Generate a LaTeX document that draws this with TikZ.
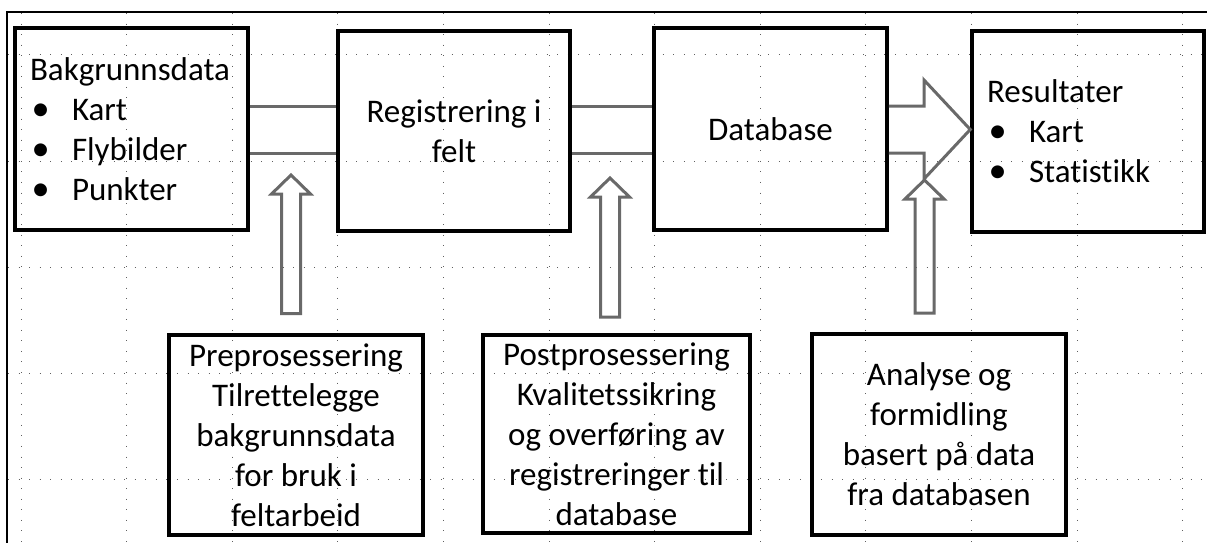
\documentclass[tikz,border=0pt]{standalone}
\usepackage{fontspec}
\setmainfont{Carlito}[Ligatures=NoCommon]
\definecolor{linegray}{RGB}{105,105,105}
\definecolor{dotgray}{RGB}{95,95,95}
% bullet used in the list boxes
\newcommand{\bul}{\makebox[42pt][l]{\hspace{1.5pt}\scalebox{1.1}{\textbullet}}}

\tikzset{
  box/.style={draw=black, line width=3.5pt, inner sep=0pt,
    font=\fontsize{33}{40}\selectfont},
  listbox/.style={box, align=left},
  textbox/.style={box, align=center},
  link/.style={draw=linegray, line width=3pt, line join=miter},
  gridline/.style={draw=dotgray, line width=1pt, dash pattern=on 1pt off 9.56pt},
  % hollow upward block arrow; argument = total length
  pics/upblock/.style={code={
    \draw[link] (-9.5,0) -- (-9.5,{-(#1-19)}) -- (-19.5,{-(#1-19)})
      -- (0,-#1) -- (19.5,{-(#1-19)}) -- (9.5,{-(#1-19)}) -- (9.5,0) -- cycle;
  }}
}

\begin{document}
\begin{tikzpicture}[x=1pt,y=-1pt]
\useasboundingbox (0,0) rectangle (1207,543);

% dotted background grid
\foreach \i in {0,...,11}
  \draw[gridline] ({21+105.6*\i},13) -- ({21+105.6*\i},543);
\foreach \yy in {55,161,267,373,479}
  \draw[gridline] (8,\yy) -- (1207,\yy);

% frame
\draw[line width=2pt] (7,543) -- (7,12) -- (1207,12);

% top row
\node[listbox, text width=203pt, minimum width=233pt, minimum height=202pt]
  (bak) at (131.5,129) {Bakgrunnsdata\\\bul Kart\\\bul Flybilder\\\bul Punkter};
\node[textbox, minimum width=232pt, minimum height=200pt]
  (reg) at (454,131) {Registrering i\\felt};
\node[textbox, minimum width=233pt, minimum height=202pt]
  (db) at (770.5,129) {Database};
\node[listbox, text width=202pt, minimum width=232pt, minimum height=201pt]
  (res) at (1088,131.5) {Resultater\\\bul Kart\\\bul Statistikk};

% bottom row
\node[textbox, minimum width=254pt, minimum height=200pt]
  (pre) at (296,435) {Preprosessering\\Tilrettelegge\\bakgrunnsdata\\for bruk i\\feltarbeid};
\node[textbox, minimum width=267pt, minimum height=198pt]
  (post) at (616.5,434) {Postprosessering\\Kvalitetssikring\\og overføring av\\registreringer til\\database};
\node[textbox, minimum width=254pt, minimum height=201pt]
  (ana) at (939,434.5) {Analyse og\\formidling\\basert på data\\fra databasen};

% levels of the double connectors
\coordinate (up) at (0,106);
\coordinate (lo) at (0,153);
\coordinate (mid) at (0,129.5);

\draw[link] (bak.east |- up) -- (reg.west |- up);
\draw[link] (bak.east |- lo) -- (reg.west |- lo);
\draw[link] (reg.east |- up) -- (db.west |- up);
\draw[link] (reg.east |- lo) -- (db.west |- lo);

% wide arrow into the results box
\coordinate (n1) at (924,106);
\coordinate (h1) at (924,80);
\coordinate (h2) at (924,179);
\coordinate (n2) at (924,153);
\draw[link] (db.east |- up) -- (n1) -- (h1) -- (res.west |- mid)
  -- (h2) -- (n2) -- (db.east |- lo);

% upward block arrows
\pic at (291,313.5) {upblock=138.5};
\pic at (610,317) {upblock=139};
\pic at (924.5,313) {upblock=133};
\end{tikzpicture}
\end{document}
